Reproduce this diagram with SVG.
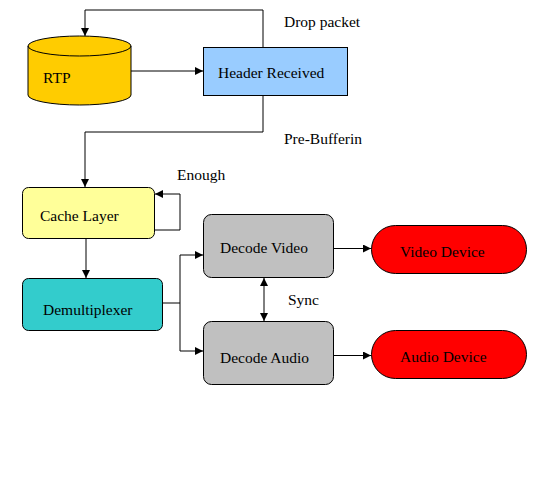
<svg xmlns="http://www.w3.org/2000/svg" width="552" height="480" viewBox="0 0 552 480">
<style>
text{font-family:"Liberation Serif","Times New Roman",serif;font-size:15.5px;fill:#000}
.n{stroke:#000;stroke-width:1}
.c{fill:none;stroke:#000;stroke-width:1}
</style>
<defs>
<marker id="a" viewBox="0 0 10 10" refX="10" refY="5" markerWidth="8" markerHeight="8" markerUnits="userSpaceOnUse" orient="auto-start-reverse"><path d="M0,0L10,5L0,10z" fill="#000"/></marker>
</defs>
<rect width="552" height="480" fill="#fff"/>
<g id="connectors">
<path class="c" d="M263,47V10H85V36" marker-end="url(#a)"/>
<path class="c" d="M131,71H203" marker-end="url(#a)"/>
<path class="c" d="M263,95V132H85V187" marker-end="url(#a)"/>
<path class="c" d="M155,230H180V194H155" marker-end="url(#a)"/>
<path class="c" d="M86,239V278" marker-end="url(#a)"/>
<path class="c" d="M162,303H180V255H203" marker-end="url(#a)"/>
<path class="c" d="M180,303V351H203" marker-end="url(#a)"/>
<path class="c" d="M264,278V321" marker-start="url(#a)" marker-end="url(#a)"/>
<path class="c" d="M333,248.5H371" marker-end="url(#a)"/>
<path class="c" d="M333,355.5H371" marker-end="url(#a)"/>
<text x="284" y="27">Drop packet</text>
<text x="284" y="144">Pre-Bufferin</text>
<text x="177" y="180">Enough</text>
<text x="288" y="305">Sync</text>
</g>
<g id="rtp">
<path class="n" fill="#FFCC00" d="M28,46V95A51.5,10 0 0 0 131,95V46A51.5,10 0 0 0 28,46z"/>
<path class="n" fill="none" d="M28,46A51.5,10 0 0 0 131,46"/>
<text x="43" y="83">RTP</text>
</g>
<g id="header">
<rect class="n" x="203.5" y="47.5" width="144" height="48" fill="#99CCFF"/>
<text x="218" y="78">Header Received</text>
</g>
<g id="cache">
<rect class="n" x="22.5" y="187.5" width="132" height="51" rx="6" fill="#FFFF99"/>
<text x="40" y="221">Cache Layer</text>
</g>
<g id="demux">
<rect class="n" x="22.5" y="278.5" width="140" height="52" rx="6" fill="#33CCCC"/>
<text x="43" y="315">Demultiplexer</text>
</g>
<g id="decodeVideo">
<rect class="n" x="203.5" y="214.5" width="130" height="63" rx="8" fill="#C0C0C0"/>
<text x="220" y="252.5">Decode Video</text>
</g>
<g id="decodeAudio">
<rect class="n" x="203.5" y="321.5" width="130" height="63" rx="8" fill="#C0C0C0"/>
<text x="220" y="362.5">Decode Audio</text>
</g>
<g id="videoDevice">
<rect class="n" x="371.5" y="225.5" width="155" height="48" rx="24" fill="#FF0000"/>
<text x="400" y="256.5">Video Device</text>
</g>
<g id="audioDevice">
<rect class="n" x="371.5" y="330.5" width="155" height="48" rx="24" fill="#FF0000"/>
<text x="400" y="361.5">Audio Device</text>
</g>
</svg>
